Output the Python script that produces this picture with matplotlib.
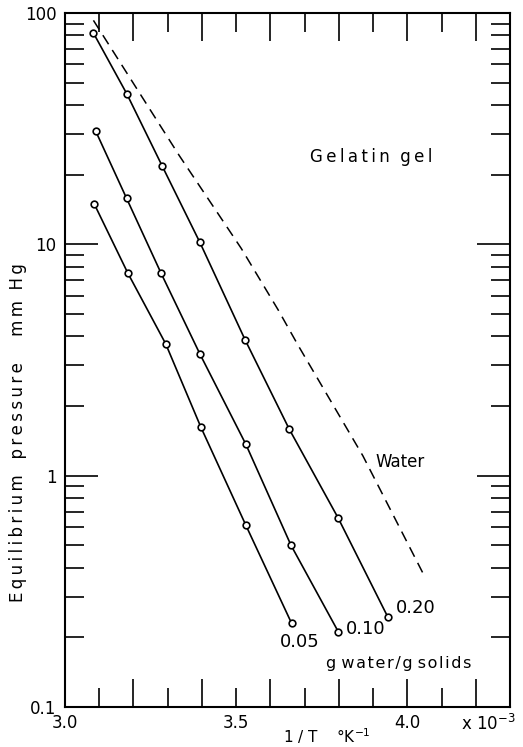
import matplotlib
matplotlib.use("Agg")
import matplotlib.pyplot as plt
from matplotlib.ticker import FuncFormatter, NullFormatter, LogLocator

# -------------------------------------------------------------------
# DATOS
# -------------------------------------------------------------------

# 1/T en unidades de 10^-3 K^-1
x_020 = [3.083, 3.180, 3.284, 3.394, 3.526, 3.655, 3.798, 3.943]
p_020 = [82.0, 44.9, 21.8, 10.2, 3.87, 1.59, 0.656, 0.245]

x_010 = [3.090, 3.180, 3.280, 3.394, 3.528, 3.660, 3.798]
p_010 = [30.8, 15.8, 7.54, 3.36, 1.37, 0.501, 0.212]

x_005 = [3.085, 3.183, 3.294, 3.397, 3.528, 3.662]
p_005 = [15.0, 7.54, 3.72, 1.62, 0.612, 0.230]

# Curva de presion de vapor del agua (trazo discontinuo)
x_agua = [3.083, 3.333, 3.515, 3.623, 3.681, 3.870, 4.048]
p_agua = [93.0, 24.3, 9.6, 5.2, 3.66, 1.22, 0.373]

x_ticks_mayores = [3.0, 3.2, 3.4, 3.6, 3.8, 4.0, 4.2]
x_ticks_menores = [3.1, 3.3, 3.5, 3.7, 3.9, 4.1]
x_etiquetas = {3.0: "3.0", 3.5: "3.5", 4.0: "4.0"}

y_ticks = [0.1, 1, 10, 100]
y_etiquetas = ["0.1", "1", "10", "100"]


def _espaciar(texto, sep="\u2009", entre="  "):
    """Separa las letras de cada palabra (rotulado tipo plantilla)."""
    return entre.join(sep.join(palabra) for palabra in texto.split(" "))


# -------------------------------------------------------------------
# FIGURA
# -------------------------------------------------------------------

fig = plt.figure(figsize=(5.23, 7.47), dpi=100)
ax = fig.add_axes([0.1243, 0.0535, 0.8509, 0.9290])

estilo = dict(color="black", linewidth=1.2, marker="o", markersize=4.8,
              markerfacecolor="white", markeredgecolor="black", markeredgewidth=1.2)

ax.plot(x_020, p_020, **estilo)
ax.plot(x_010, p_010, **estilo)
ax.plot(x_005, p_005, **estilo)
ax.plot(x_agua, p_agua, color="black", linewidth=1.1, dashes=(7, 4.5))

ax.set_yscale("log")
ax.set_xlim(3.0, 4.3)
ax.set_ylim(0.1, 100)

# --- Eje x: marcas largas cada 0.2, cortas en las decimas impares ---
ax.set_xticks(x_ticks_mayores)
ax.set_xticks(x_ticks_menores, minor=True)
fmt_x = FuncFormatter(lambda v, pos: x_etiquetas.get(round(v, 2), ""))
ax.xaxis.set_major_formatter(fmt_x)
ax.xaxis.set_minor_formatter(fmt_x)

ax.tick_params(axis="x", which="major", direction="in", length=20, width=1.2,
               top=True, labelsize=12, pad=5)
ax.tick_params(axis="x", which="minor", direction="in", length=13.5, width=1.2,
               top=True, labelsize=12, pad=5)

# --- Eje y logaritmico ---
ax.set_yticks(y_ticks)
ax.set_yticklabels(y_etiquetas)
ax.yaxis.set_minor_locator(LogLocator(base=10, subs=range(2, 10)))
ax.yaxis.set_minor_formatter(NullFormatter())
ax.tick_params(axis="y", which="major", direction="in", length=24, width=1.2,
               right=True, labelsize=12, pad=6)
ax.tick_params(axis="y", which="minor", direction="in", length=13.5, width=1.2,
               right=True)

for sp in ax.spines.values():
    sp.set_linewidth(1.5)

# --- Anotaciones ---
ax.text(3.716, 23.8, _espaciar("Gelatin gel"), fontsize=12, va="center", ha="left")
ax.text(3.908, 1.15, "Water", fontsize=12, va="center", ha="left")
ax.text(3.966, 0.268, "0.20", fontsize=13, va="center", ha="left")
ax.text(3.821, 0.218, "0.10", fontsize=13, va="center", ha="left")
ax.text(3.629, 0.191, "0.05", fontsize=13, va="center", ha="left")
ax.text(3.763, 0.1535, _espaciar("g water/g solids", "\u200a", " "), fontsize=11.5,
        va="center", ha="left")

fig.text(488 / 523, 1 - 724 / 747, r"x 10$^{-3}$", fontsize=12, ha="center", va="center")
fig.text(327 / 523, 1 / 747, r"1 / T    °K$^{-1}$", fontsize=11, ha="center", va="bottom")
fig.text(18 / 523, 1 - 433 / 747,
         _espaciar("Equilibrium pressure", entre="   ") + "     " + _espaciar("mm Hg"),
         fontsize=12, rotation=90, ha="center", va="center")

fig.savefig("out.png", dpi=100)
